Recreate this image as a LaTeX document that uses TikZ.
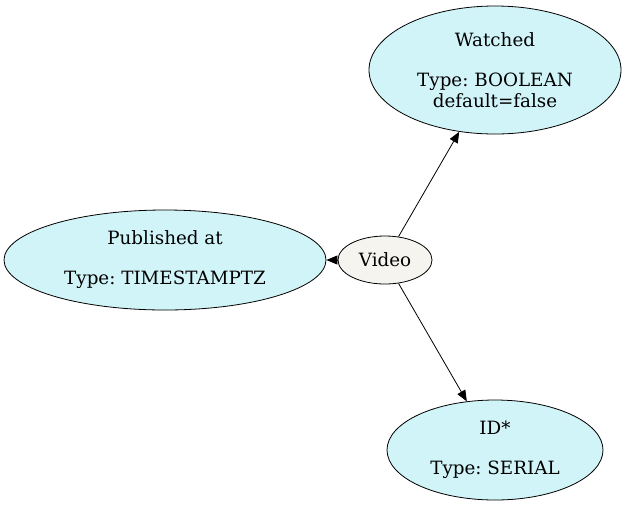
\documentclass[tikz,border=0pt]{standalone}
\usepackage{fontspec}
\setmainfont{DejaVu Serif}
\usetikzlibrary{shapes.geometric,arrows.meta}
\definecolor{attrfill}{HTML}{D1F4F8}
\definecolor{entfill}{HTML}{F5F4EF}
\frenchspacing
\begin{document}
\begin{tikzpicture}[x=1pt,y=-1pt,
  attr/.style={ellipse,draw=black,line width=0.8pt,fill=attrfill,inner sep=0pt,align=center,font=\fontsize{18.3}{20}\selectfont},
  ent/.style={ellipse,draw=black,line width=0.8pt,fill=entfill,inner sep=0pt,align=center,font=\fontsize{18.3}{20}\selectfont},
  conn/.style={draw=black,line width=0.8pt,-{Triangle[length=11pt,width=9pt]}}]
\useasboundingbox (0,0) rectangle (626,507);
\node[attr,minimum width=252pt,minimum height=128pt] (w) at (495,70) {Watched\\\\Type: BOOLEAN\\[1pt]default=false};
\node[attr,minimum width=322pt,minimum height=100pt] (p) at (165,260) {Published at\\\\Type: TIMESTAMPTZ};
\node[ent,minimum width=94pt,minimum height=48pt] (v) at (385,260) {Video};
\node[attr,minimum width=216pt,minimum height=100pt] (i) at (495,450) {ID*\\\\Type: SERIAL};
\draw[conn] (v) -- (w);
\draw[conn] (v) -- (p);
\draw[conn] (v) -- (i);
\end{tikzpicture}
\end{document}
